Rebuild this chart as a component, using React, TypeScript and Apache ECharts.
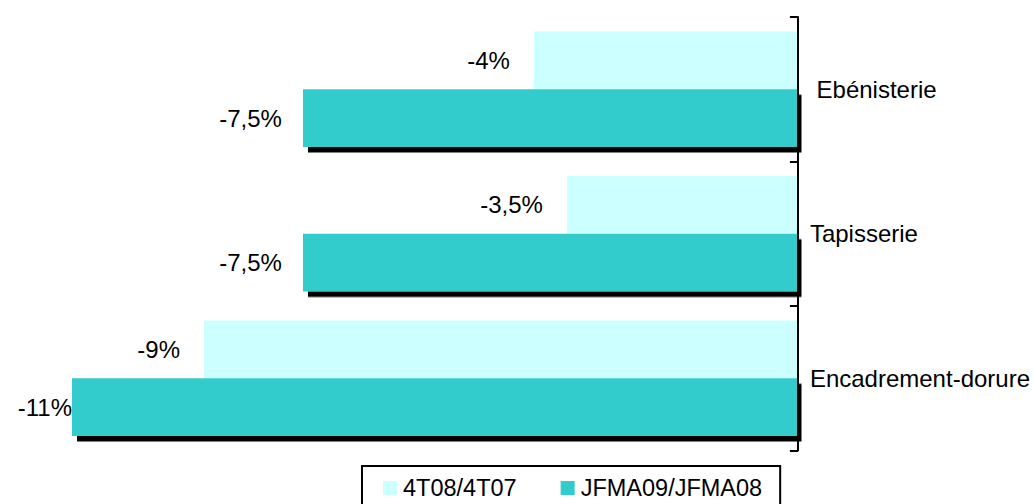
import React, { useEffect, useRef } from "react";
import * as echarts from "echarts";

const categories = [" Ebénisterie", "Tapisserie", "Encadrement-dorure"];
const seriesNames = ["4T08/4T07", "JFMA09/JFMA08"];
const values4T = [-4, -3.5, -9];
const valuesJFMA = [-7.5, -7.5, -11];

const FONT = "'Liberation Sans', Arial, sans-serif";

const fmt = (v: number) => String(v).replace(".", ",") + "%";

export default function App() {
  const ref = useRef<HTMLDivElement>(null);
  useEffect(() => {
    if (!ref.current) return;
    const chart = echarts.init(ref.current, undefined, { renderer: "svg" });
    const minVal = Math.min(...valuesJFMA, ...values4T);
    chart.setOption({
      animation: false,
      backgroundColor: "#ffffff",
      grid: { left: 72, right: 233, top: 17, bottom: 53.5, containLabel: false },
      xAxis: {
        type: "value",
        min: -11,
        max: 0,
        show: false,
      },
      yAxis: {
        type: "category",
        data: categories,
        inverse: true,
        position: "right",
        z: 5,
        axisLine: { show: true, lineStyle: { color: "#000", width: 2 } },
        axisTick: { show: true, inside: true, length: 8, lineStyle: { color: "#000", width: 2 } },
        axisLabel: {
          color: "#000",
          fontFamily: FONT,
          fontSize: 24,
          margin: 12,
          padding: [0, 0, 6, 0],
        },
        splitLine: { show: false },
      },
      legend: {
        left: 362,
        top: 466,
        padding: [10, 18, 12, 21],
        borderColor: "#000",
        borderWidth: 2,
        itemWidth: 14,
        itemHeight: 14,
        itemGap: 44,
        icon: "rect",
        textStyle: { color: "#000", fontFamily: FONT, fontSize: 23.5, padding: [0, 0, 0, 1] },
        data: seriesNames,
      },
      graphic: [
        {
          type: "rect",
          z: 3,
          shape: { x: 801.5, y: 16, width: 8, height: 440 },
          style: { fill: "#ffffff" },
        },
      ],
      series: [
        {
          name: seriesNames[0],
          type: "bar",
          data: values4T,
          barGap: "0%",
          barCategoryGap: "20%",
          itemStyle: { color: "#CCFFFF" },
          label: {
            show: true,
            position: "left",
            distance: 24,
            color: "#000",
            fontFamily: FONT,
            fontSize: 24,
            formatter: (p: any) => fmt(p.value),
          },
        },
        {
          name: seriesNames[1],
          type: "bar",
          data: valuesJFMA.map((v) =>
            v === minVal ? { value: v, label: { distance: 0 } } : v
          ),
          barGap: "0%",
          barCategoryGap: "20%",
          itemStyle: {
            color: "#33CCCC",
            shadowColor: "#000",
            shadowBlur: 0,
            shadowOffsetX: 5,
            shadowOffsetY: 5.5,
          },
          label: {
            show: true,
            position: "left",
            distance: 21,
            color: "#000",
            fontFamily: FONT,
            fontSize: 24,
            formatter: (p: any) => fmt(p.value),
          },
        },
      ],
    });
    return () => chart.dispose();
  }, []);
  return (
    <div
      ref={ref}
      style={{ position: "fixed", left: 0, top: 0, width: 1033, height: 504 }}
    />
  );
}
